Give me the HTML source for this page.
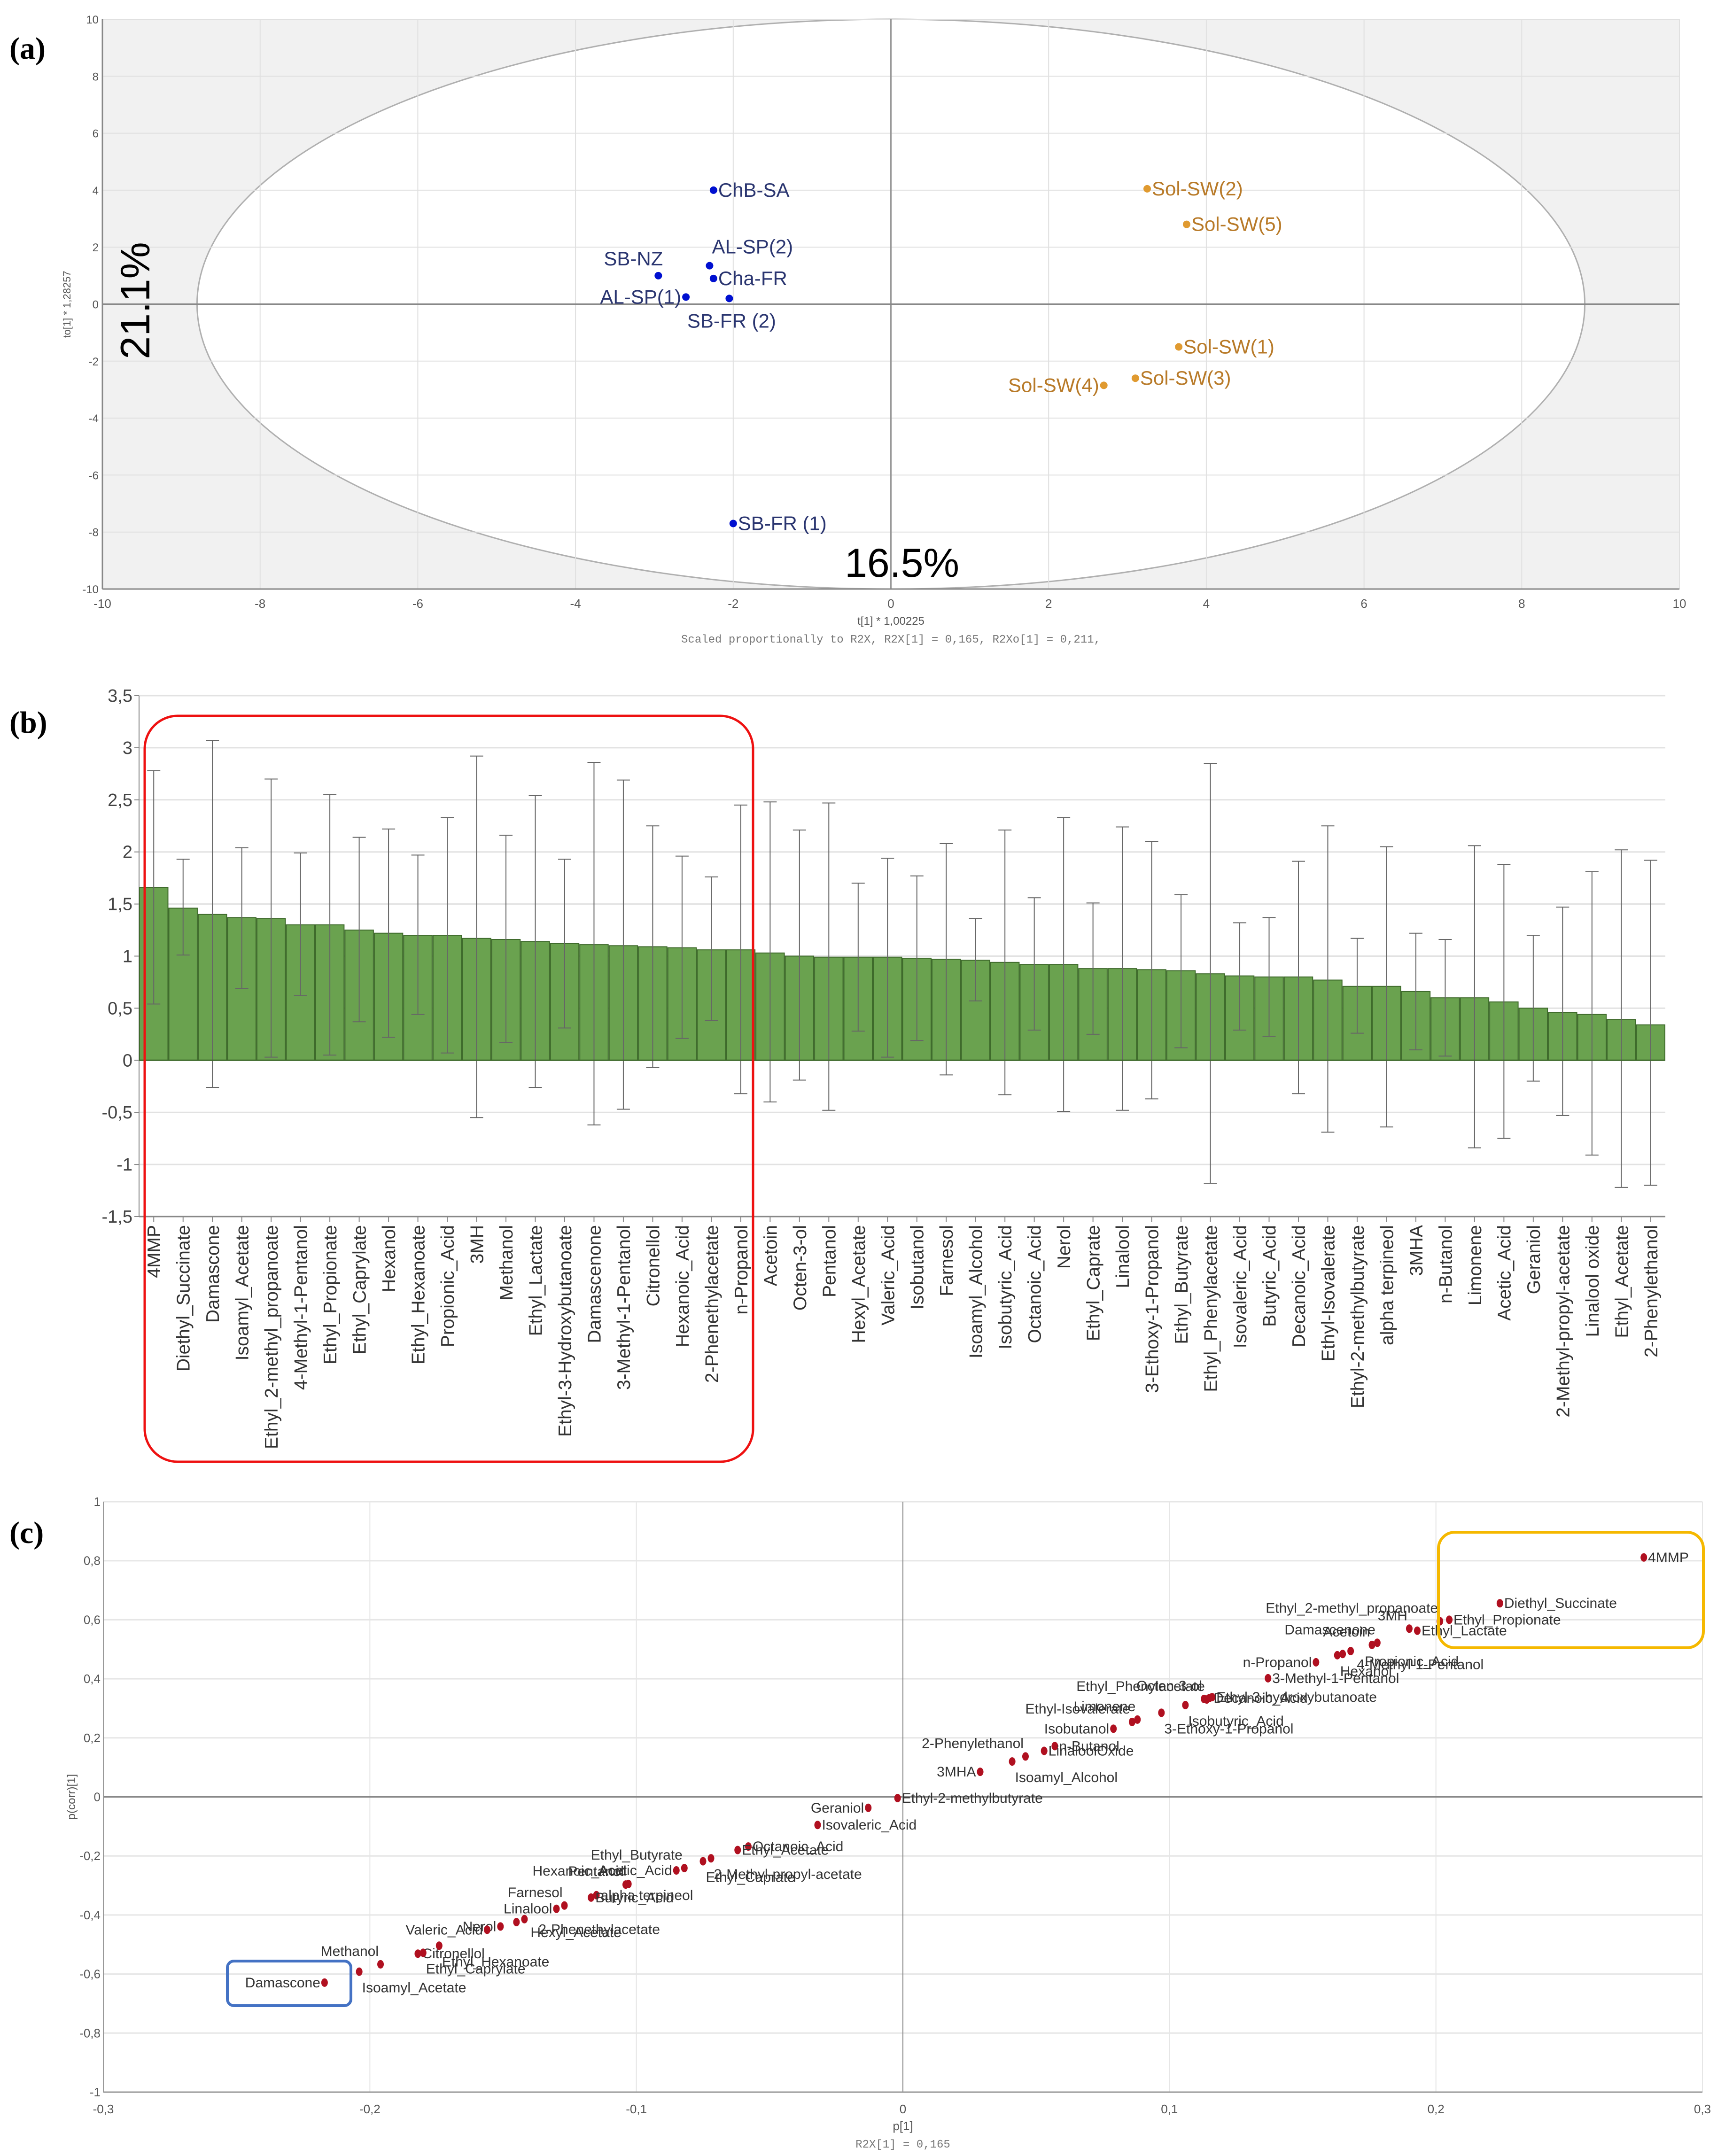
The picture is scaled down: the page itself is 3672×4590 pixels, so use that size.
<!DOCTYPE html>
<html><head><meta charset="utf-8"><style>
html,body{margin:0;padding:0;background:#fff}
svg{display:block}
text{font-family:"Liberation Sans",sans-serif}
.nar{font-family:"Liberation Sans Narrow","Liberation Sans",sans-serif}
.serif{font-family:"Liberation Serif",serif}
.mono{font-family:"Liberation Mono",monospace}
</style></head><body>
<svg id="s" width="3672" height="4590" viewBox="0 0 3672 4590" xmlns="http://www.w3.org/2000/svg">
<g id="ga"></g>
<g id="gb"></g>
<g id="gc"></g>
</svg>
<script>
// ---------- Panel A data ----------
const aNames=["ChB-SA","SB-NZ","AL-SP(2)","Cha-FR","AL-SP(1)","SB-FR (2)","SB-FR (1)","Sol-SW(2)","Sol-SW(5)","Sol-SW(1)","Sol-SW(3)","Sol-SW(4)"];
const aX=[-2.25,-2.95,-2.3,-2.25,-2.6,-2.05,-2.0,3.25,3.75,3.65,3.1,2.7];
const aY=[4.0,1.0,1.35,0.9,0.25,0.2,-7.7,4.05,2.8,-1.5,-2.6,-2.85];
const aGroup=[0,0,0,0,0,0,0,1,1,1,1,1];
const aPos=["r","tl","tr","r","l","b","r","r","r","r","r","l"];
const aTicks=[-10,-8,-6,-4,-2,0,2,4,6,8,10];
// ---------- Panel B data ----------
const bNames=["4MMP","Diethyl_Succinate","Damascone","Isoamyl_Acetate","Ethyl_2-methyl_propanoate","4-Methyl-1-Pentanol","Ethyl_Propionate","Ethyl_Caprylate","Hexanol","Ethyl_Hexanoate","Propionic_Acid","3MH","Methanol","Ethyl_Lactate","Ethyl-3-Hydroxybutanoate","Damascenone","3-Methyl-1-Pentanol","Citronellol","Hexanoic_Acid","2-Phenethylacetate","n-Propanol","Acetoin","Octen-3-ol","Pentanol","Hexyl_Acetate","Valeric_Acid","Isobutanol","Farnesol","Isoamyl_Alcohol","Isobutyric_Acid","Octanoic_Acid","Nerol","Ethyl_Caprate","Linalool","3-Ethoxy-1-Propanol","Ethyl_Butyrate","Ethyl_Phenylacetate","Isovaleric_Acid","Butyric_Acid","Decanoic_Acid","Ethyl-Isovalerate","Ethyl-2-methylbutyrate","alpha terpineol","3MHA","n-Butanol","Limonene","Acetic_Acid","Geraniol","2-Methyl-propyl-acetate","Linalool oxide","Ethyl_Acetate","2-Phenylethanol"];
const bVals=[1.66,1.46,1.40,1.37,1.36,1.30,1.30,1.25,1.22,1.20,1.20,1.17,1.16,1.14,1.12,1.11,1.10,1.09,1.08,1.06,1.06,1.03,1.00,0.99,0.99,0.99,0.98,0.97,0.96,0.94,0.92,0.92,0.88,0.88,0.87,0.86,0.83,0.81,0.80,0.80,0.77,0.71,0.71,0.66,0.60,0.60,0.56,0.50,0.46,0.44,0.39,0.34];
const bHi=[2.78,1.93,3.07,2.04,2.70,1.99,2.55,2.14,2.22,1.97,2.33,2.92,2.16,2.54,1.93,2.86,2.69,2.25,1.96,1.76,2.45,2.48,2.21,2.47,1.70,1.94,1.77,2.08,1.36,2.21,1.56,2.33,1.51,2.24,2.10,1.59,2.85,1.32,1.37,1.91,2.25,1.17,2.05,1.22,1.16,2.06,1.88,1.20,1.47,1.81,2.02,1.92];
const bLo=[0.54,1.01,-0.26,0.69,0.03,0.62,0.05,0.37,0.22,0.44,0.07,-0.55,0.17,-0.26,0.31,-0.62,-0.47,-0.07,0.21,0.38,-0.32,-0.40,-0.19,-0.48,0.28,0.03,0.19,-0.14,0.57,-0.33,0.29,-0.49,0.25,-0.48,-0.37,0.12,-1.18,0.29,0.23,-0.32,-0.69,0.26,-0.64,0.10,0.04,-0.84,-0.75,-0.20,-0.53,-0.91,-1.22,-1.20];
const bTicks=[3.5,3,2.5,2,1.5,1,0.5,0,-0.5,-1,-1.5];
const bTickLabels=["3,5","3","2,5","2","1,5","1","0,5","0","-0,5","-1","-1,5"];
// ---------- Panel C data ----------
const cNames=["4MMP","Diethyl_Succinate","Ethyl_Propionate","Ethyl_Lactate","Ethyl_2-methyl_propanoate","3MH","Damascenone","Acetoin","Propionic_Acid","4-Methyl-1-Pentanol","Hexanol","n-Propanol","3-Methyl-1-Pentanol","Ethyl_Phenylacetate","Octen-3-ol","Decanoic_Acid","Ethyl-3-hydroxybutanoate","Isobutyric_Acid","3-Ethoxy-1-Propanol","Limonene","Ethyl-Isovalerate","Isobutanol","n-Butanol","LinaloolOxide","2-Phenylethanol","Isoamyl_Alcohol","3MHA","Ethyl-2-methylbutyrate","Geraniol","Isovaleric_Acid","Octanoic_Acid","Ethyl_Acetate","2-Methyl-propyl-acetate","Ethyl_Caprate","Ethyl_Butyrate","Acetic_Acid","Hexanoic_Acid","Pentanol","alpha terpineol","Butyric_Acid","Farnesol","Linalool","2-Phenethylacetate","Hexyl_Acetate","Nerol","Valeric_Acid","Ethyl_Hexanoate","Citronellol","Ethyl_Caprylate","Methanol","Isoamyl_Acetate","Damascone"];
const cX=[0.278,0.224,0.205,0.193,0.2015,0.19,0.178,0.176,0.168,0.165,0.163,0.155,0.137,0.114,0.113,0.115,0.116,0.106,0.097,0.088,0.086,0.079,0.057,0.053,0.046,0.041,0.029,-0.002,-0.013,-0.032,-0.058,-0.062,-0.072,-0.075,-0.082,-0.085,-0.103,-0.104,-0.115,-0.117,-0.127,-0.13,-0.142,-0.145,-0.151,-0.156,-0.174,-0.182,-0.18,-0.196,-0.204,-0.217];
const cY=[0.811,0.656,0.60,0.563,0.595,0.57,0.522,0.515,0.494,0.484,0.48,0.456,0.402,0.33,0.332,0.335,0.338,0.311,0.285,0.262,0.254,0.231,0.172,0.156,0.137,0.12,0.085,-0.004,-0.037,-0.095,-0.168,-0.18,-0.208,-0.218,-0.241,-0.249,-0.295,-0.297,-0.333,-0.341,-0.368,-0.379,-0.414,-0.424,-0.439,-0.45,-0.504,-0.531,-0.528,-0.567,-0.592,-0.629];
const cPos=["r","r","r","r","tl","tl","tl","tl","br","br","b","l","r","tl","tl","r","r","b","b","tl","tl","l","r","r","tl","b","l","r","l","r","r","r","b","b","tl","l","tl","tl","r","r","tl","l","br","br","l","l","b","r","b","tl","b","l"];
const cXTicks=[-0.3,-0.2,-0.1,0,0.1,0.2,0.3];
const cXTickLabels=["-0,3","-0,2","-0,1","0","0,1","0,2","0,3"];
const cYTicks=[1,0.8,0.6,0.4,0.2,0,-0.2,-0.4,-0.6,-0.8,-1];
const cYTickLabels=["1","0,8","0,6","0,4","0,2","0","-0,2","-0,4","-0,6","-0,8","-1"];

const NS="http://www.w3.org/2000/svg";
function mk(parent,tag,attrs,txt){const e=document.createElementNS(NS,tag);for(const k in attrs)e.setAttribute(k,attrs[k]);if(txt!==undefined)e.textContent=txt;parent.appendChild(e);return e;}

// ===== Panel A =====
const ga=document.getElementById('ga');
const aL=218,aR=3575,aT=41,aB=1254;
const ax=v=>aL+(v+10)/20*(aR-aL), ay=v=>(aT+aB)/2-v*(aB-aT)/20;
let e;
e=mk(ga,'rect',{x:aL,y:aT,width:aR-aL,height:aB-aT,fill:'#f1f1f1'});


e=mk(ga,'ellipse',{cx:ax(0),cy:ay(0),rx:ax(8.8)-ax(0),ry:ay(-10)-ay(0),fill:'#fff',stroke:'#b0b0b0','stroke-width':3});


aTicks.forEach(t=>{
  mk(ga,'line',{x1:ax(t),x2:ax(t),y1:aT,y2:aB,stroke:'#e0e0e0','stroke-width':2});
  mk(ga,'line',{x1:aL,x2:aR,y1:ay(t),y2:ay(t),stroke:'#e0e0e0','stroke-width':2});
  e=mk(ga,'text',{x:ax(t),y:aB+40,'font-size':26,fill:'#555','text-anchor':'middle'},String(t));
  
  
  e=mk(ga,'text',{x:aL-8,y:ay(t)+9,'font-size':24,fill:'#555','text-anchor':'end'},String(t));
  
  
});
mk(ga,'line',{x1:ax(0),x2:ax(0),y1:aT,y2:aB,stroke:'#999','stroke-width':3});
mk(ga,'line',{x1:aL,x2:aR,y1:ay(0),y2:ay(0),stroke:'#888','stroke-width':3});
mk(ga,'line',{x1:aL,x2:aL,y1:aT,y2:aB,stroke:'#888','stroke-width':3});
mk(ga,'line',{x1:aL,x2:aR,y1:aB,y2:aB,stroke:'#888','stroke-width':3});
aNames.forEach((n,i)=>{
  const x=ax(aX[i]),y=ay(aY[i]);
  const col=aGroup[i]?'#e09a30':'#0010d0', tc=aGroup[i]?'#b87a28':'#2a3570';
  e=mk(ga,'circle',{cx:x,cy:y,r:8,fill:col});
  
  
  let tx=x+10,ty=y+14,an='start';
  const p=aPos[i];
  if(p==='l'){tx=x-10;an='end';}
  if(p==='tl'){tx=x+10;ty=y-22;an='end';}
  if(p==='tr'){tx=x+5;ty=y-26;}
  if(p==='b'){tx=x+5;ty=y+62;an='middle';}
  e=mk(ga,'text',{x:tx,y:ty,'font-size':42,fill:tc,'text-anchor':an},n);
  
  
});
e=mk(ga,'text',{x:318,y:640,'font-size':88,fill:'#000','text-anchor':'middle',transform:'rotate(-90 318 640)'},'21.1%');


e=mk(ga,'text',{x:1920,y:1228,'font-size':86,fill:'#000','text-anchor':'middle'},'16.5%');


e=mk(ga,'text',{x:(aL+aR)/2,y:1330,'font-size':24,fill:'#555','text-anchor':'middle'},'t[1] * 1,00225');


e=mk(ga,'text',{x:(aL+aR)/2,y:1368,'font-size':24,fill:'#777','text-anchor':'middle',class:'mono'},'Scaled proportionally to R2X, R2X[1] = 0,165, R2Xo[1] = 0,211,');


e=mk(ga,'text',{x:150,y:648,'font-size':22,fill:'#555','text-anchor':'middle',transform:'rotate(-90 150 648)'},'to[1] * 1,28257');


e=mk(ga,'text',{x:20,y:125,'font-size':66,'font-weight':'bold',class:'serif'},'(a)');



// ===== Panel B =====
const gb=document.getElementById('gb');
const bL=296,bR=3545,bTop=1481,bBot=2590;
const bw=(bR-bL)/bNames.length;
const by=v=>bBot-(v+1.5)*(bBot-bTop)/5;
const bx=i=>bL+bw*(i+0.5);
bTicks.forEach((t,i)=>{
  mk(gb,'line',{x1:bL,x2:bR,y1:by(t),y2:by(t),stroke:'#e2e2e2','stroke-width':3});
  mk(gb,'line',{x1:bL-10,x2:bL,y1:by(t),y2:by(t),stroke:'#888','stroke-width':2});
  e=mk(gb,'text',{x:bL-14,y:by(t)+13,'font-size':38,fill:'#444','text-anchor':'end'},bTickLabels[i]);
  
  
});
mk(gb,'line',{x1:bL,x2:bL,y1:bTop,y2:bBot,stroke:'#888','stroke-width':2});
mk(gb,'line',{x1:bL,x2:bR,y1:bBot,y2:bBot,stroke:'#888','stroke-width':3});
bNames.forEach((n,i)=>{
  const x0=bL+bw*i, y0=by(0), y1=by(bVals[i]);
  e=mk(gb,'rect',{x:x0+1,y:Math.min(y0,y1),width:bw-2,height:Math.abs(y0-y1),fill:'#6aa24f',stroke:'#3e6a2b','stroke-width':2});
  
  
  const cx=bx(i);
  e=mk(gb,'path',{d:`M${cx},${by(bHi[i])}V${by(bLo[i])}M${cx-14},${by(bHi[i])}H${cx+14}M${cx-14},${by(bLo[i])}H${cx+14}`,stroke:'#666','stroke-width':2,fill:'none'});
  
  
  mk(gb,'line',{x1:cx,x2:cx,y1:bBot,y2:bBot+12,stroke:'#888','stroke-width':2});
  const ly=bBot+18;
  e=mk(gb,'text',{x:cx+14,y:ly,'font-size':39,fill:'#333','text-anchor':'end',transform:`rotate(-90 ${cx+14} ${ly})`},n);
  
  
});
mk(gb,'line',{x1:bL,x2:bR,y1:by(0),y2:by(0),stroke:'#3e6a2b','stroke-width':3});
e=mk(gb,'rect',{x:308,y:1524,width:1295,height:1588,rx:70,ry:70,fill:'none',stroke:'#ee1111','stroke-width':5});


e=mk(gb,'text',{x:20,y:1560,'font-size':66,'font-weight':'bold',class:'serif'},'(b)');



// ===== Panel C =====
const gc=document.getElementById('gc');
const cL=220,cR=3624,cT=3197,cB=4454;
const cx_=v=>cL+(v+0.3)/0.6*(cR-cL), cy_=v=>(cT+cB)/2-v*(cB-cT)/2;
cXTicks.forEach((t,i)=>{
  mk(gc,'line',{x1:cx_(t),x2:cx_(t),y1:cT,y2:cB,stroke:'#e6e6e6','stroke-width':2});
  e=mk(gc,'text',{x:cx_(t),y:cB+45,'font-size':26,fill:'#555','text-anchor':'middle'},cXTickLabels[i]);
  
  
});
cYTicks.forEach((t,i)=>{
  mk(gc,'line',{x1:cL,x2:cR,y1:cy_(t),y2:cy_(t),stroke:'#e6e6e6','stroke-width':3});
  e=mk(gc,'text',{x:cL-6,y:cy_(t)+9,'font-size':26,fill:'#555','text-anchor':'end'},cYTickLabels[i]);
  
  
});
mk(gc,'line',{x1:cx_(0),x2:cx_(0),y1:cT,y2:cB,stroke:'#888','stroke-width':2});
mk(gc,'line',{x1:cL,x2:cR,y1:cy_(0),y2:cy_(0),stroke:'#888','stroke-width':3});
mk(gc,'line',{x1:cL,x2:cL,y1:cT,y2:cB,stroke:'#999','stroke-width':2});
mk(gc,'line',{x1:cL,x2:cR,y1:cB,y2:cB,stroke:'#999','stroke-width':3});
cNames.forEach((n,i)=>{
  const x=cx_(cX[i]),y=cy_(cY[i]);
  e=mk(gc,'ellipse',{cx:x,cy:y,rx:7,ry:9,fill:'#b01020'});
  
  
  let tx=x+9,ty=y+10,an='start';
  const p=cPos[i];
  if(p==='l'){tx=x-9;an='end';}
  if(p==='tl'){tx=x-4;ty=y-18;an='end';}
  if(p==='b'){tx=x+6;ty=y+44;}
  if(p==='br'){tx=x+30;ty=y+32;}
  e=mk(gc,'text',{x:tx,y:ty,'font-size':30,fill:'#333','text-anchor':an,class:'nar'},n);
  
  
});
e=mk(gc,'rect',{x:3062,y:3262,width:564,height:246,rx:35,ry:35,fill:'none',stroke:'#f5b800','stroke-width':6});


e=mk(gc,'rect',{x:484,y:4175,width:263,height:95,rx:14,ry:14,fill:'none',stroke:'#4472c4','stroke-width':6});


e=mk(gc,'text',{x:cx_(0),y:4535,'font-size':26,fill:'#555','text-anchor':'middle'},'p[1]');


e=mk(gc,'text',{x:cx_(0),y:4572,'font-size':24,fill:'#777','text-anchor':'middle',class:'mono'},'R2X[1] = 0,165');


e=mk(gc,'text',{x:160,y:cy_(0),'font-size':24,fill:'#555','text-anchor':'middle',transform:`rotate(-90 160 ${cy_(0)})`},'p(corr)[1]');


e=mk(gc,'text',{x:20,y:3285,'font-size':66,'font-weight':'bold',class:'serif'},'(c)');


</script>
</body></html>
